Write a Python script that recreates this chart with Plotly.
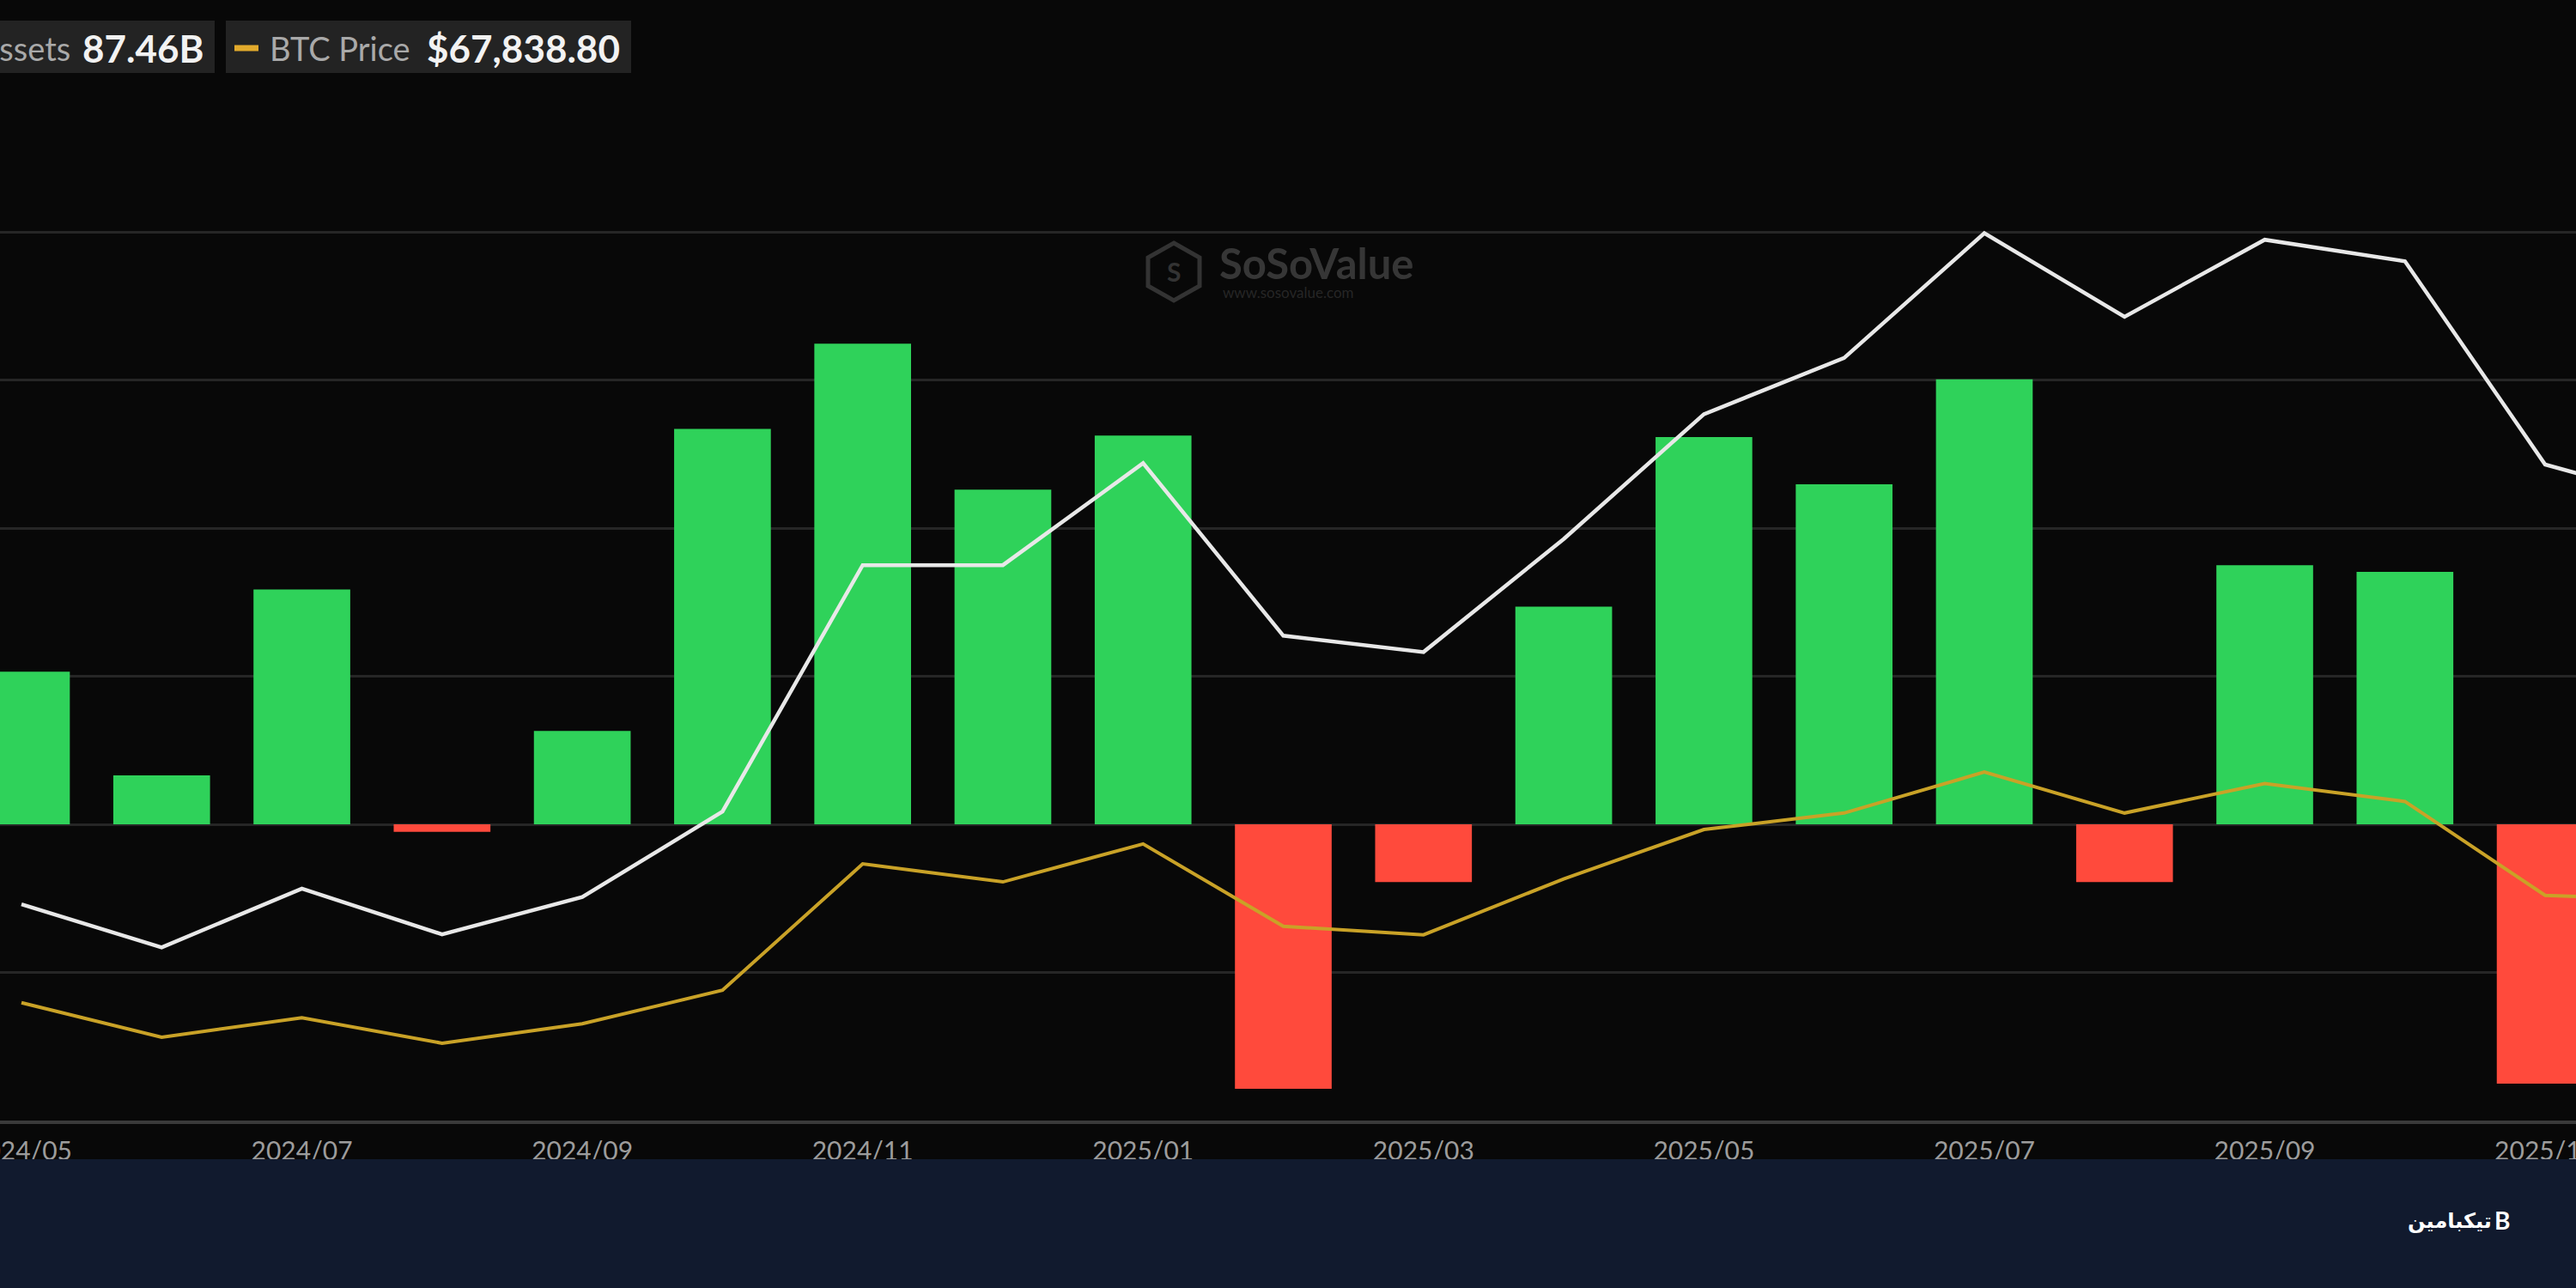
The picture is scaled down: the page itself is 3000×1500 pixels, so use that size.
import plotly.graph_objects as go

# ---------------- data ----------------
months = ["2024/05", "2024/06", "2024/07", "2024/08", "2024/09", "2024/10", "2024/11",
          "2024/12", "2025/01", "2025/02", "2025/03", "2025/04", "2025/05", "2025/06",
          "2025/07", "2025/08", "2025/09", "2025/10", "2025/11", "2025/12"]

# monthly total net inflow (billion USD) - bars
net_inflow_b = [2.06, 0.66, 3.17, -0.10, 1.26, 5.34, 6.49, 4.52, 5.25, -3.57,
                -0.78, 2.94, 5.23, 4.59, 6.01, -0.78, 3.50, 3.41, -3.50]

# total net assets (billion USD) - white line
total_net_assets_b = [53.1, 46.5, 55.5, 48.5, 54.2, 67.3, 105.0, 105.0, 120.6, 94.2,
                      91.7, 109.0, 128.1, 136.7, 155.8, 143.0, 154.8, 151.5, 120.4, 114.5]

# BTC price (thousand USD) - gold line
btc_price_k = [69.6, 62.7, 66.6, 61.5, 65.4, 72.1, 97.4, 93.8, 101.4, 84.9,
               83.2, 94.4, 104.3, 107.6, 115.8, 107.6, 113.5, 109.9, 91.1, 90.2]

tick_months = months[:19:2]

legend_assets_label = "Total Net Assets"
legend_assets_value = "87.46B"
legend_btc_label = "BTC Price"
legend_btc_value = "$67,838.80"

# ---------------- style ----------------
W, H = 3000, 1500
BG = "#080808"
GREEN = "#2fd25a"
RED = "#ff4a3c"
WHITE_LINE = "#e8e8e8"
GOLD = "#c9a227"
GRID = "#262626"
BAND = "#111a2e"
FONT = "Lato, Roboto, 'Open Sans', sans-serif"


def px(x):
    return x / W


def py(y):
    return 1 - y / H


fig = go.Figure()

bar_colors = [GREEN if v >= 0 else RED for v in net_inflow_b]
fig.add_trace(go.Bar(
    x=months[:len(net_inflow_b)], y=net_inflow_b,
    marker=dict(color=bar_colors, line=dict(width=0)),
    name="Total Net Inflow", yaxis="y", showlegend=False,
))
fig.add_trace(go.Scatter(
    x=months, y=total_net_assets_b, mode="lines",
    line=dict(color=WHITE_LINE, width=4.5), yaxis="y2",
    name=legend_assets_label, showlegend=False,
))
fig.add_trace(go.Scatter(
    x=months, y=btc_price_k, mode="lines",
    line=dict(color=GOLD, width=4), yaxis="y3",
    name=legend_btc_label, showlegend=False,
))

# plot area: bottom at 1305 px (-4), 8 at 270 px, extra 0.05 headroom above
y_dom = [py(1305), py(265.7)]

shapes = [
    # legend boxes
    dict(type="rect", xref="paper", yref="paper", x0=-0.01, x1=px(250), y0=py(85), y1=py(24),
         fillcolor="#232323", line=dict(width=0), layer="above"),
    dict(type="rect", xref="paper", yref="paper", x0=px(263), x1=px(735), y0=py(85), y1=py(24),
         fillcolor="#232323", line=dict(width=0), layer="above"),
    dict(type="line", xref="paper", yref="paper", x0=px(273), x1=px(301), y0=py(56), y1=py(56),
         line=dict(color="#e2aa2c", width=7), layer="above"),
    # watermark hexagon
    dict(type="path", xref="paper", yref="paper",
         path=("M {a},{b} L {c},{d} L {c},{e} L {a},{f} L {g},{e} L {g},{d} Z").format(
             a=px(1367), b=py(283), c=px(1397), d=py(300), e=py(333), f=py(350), g=px(1337)),
         line=dict(color="#333333", width=5), fillcolor="rgba(0,0,0,0)", layer="below"),
    # bottom band
    dict(type="rect", xref="paper", yref="paper", x0=0, x1=1, y0=0, y1=py(1350),
         fillcolor=BAND, line=dict(width=0), layer="above"),
]

annotations = [
    dict(x=px(84), y=py(56), xref="paper", yref="paper", text=legend_assets_label,
         xanchor="right", yanchor="middle", showarrow=False,
         font=dict(family=FONT, size=38, color="#a9a9a9")),
    dict(x=px(94), y=py(56), xref="paper", yref="paper", text="<b>" + legend_assets_value + "</b>",
         xanchor="left", yanchor="middle", showarrow=False,
         font=dict(family=FONT, size=44, color="#f2f2f2")),
    dict(x=px(312), y=py(56), xref="paper", yref="paper", text=legend_btc_label,
         xanchor="left", yanchor="middle", showarrow=False,
         font=dict(family=FONT, size=38, color="#a9a9a9")),
    dict(x=px(495), y=py(56), xref="paper", yref="paper", text="<b>" + legend_btc_value + "</b>",
         xanchor="left", yanchor="middle", showarrow=False,
         font=dict(family=FONT, size=44, color="#f2f2f2")),
    # watermark
    dict(x=px(1367), y=py(316), xref="paper", yref="paper", text="<b>S</b>",
         xanchor="center", yanchor="middle", showarrow=False,
         font=dict(family=FONT, size=30, color="#333333")),
    dict(x=px(1418), y=py(306), xref="paper", yref="paper", text="<b>SoSoValue</b>",
         xanchor="left", yanchor="middle", showarrow=False,
         font=dict(family=FONT, size=49, color="#363636")),
    dict(x=px(1422), y=py(340), xref="paper", yref="paper", text="www.sosovalue.com",
         xanchor="left", yanchor="middle", showarrow=False,
         font=dict(family=FONT, size=17, color="#262626")),
    # site logo in band
    dict(x=px(2904), y=py(1422), xref="paper", yref="paper", text="<b>تیکبامین</b>",
         xanchor="right", yanchor="middle", showarrow=False,
         font=dict(family="'DejaVu Sans', 'Noto Sans', sans-serif", size=24, color="#ffffff")),
    dict(x=px(2903), y=py(1421), xref="paper", yref="paper", text="<b>B</b>",
         xanchor="left", yanchor="middle", showarrow=False,
         font=dict(family=FONT, size=28, color="#ffffff")),
]

fig.update_layout(
    width=W, height=H,
    margin=dict(l=0, r=0, t=0, b=0, pad=0, autoexpand=False),
    paper_bgcolor=BG, plot_bgcolor=BG,
    bargap=0.31,
    showlegend=False,
    shapes=shapes,
    annotations=annotations,
    font=dict(family=FONT, color="#9a9a9a"),
    xaxis=dict(
        type="category", categoryorder="array", categoryarray=months,
        range=[-0.153, 18.22], domain=[0, 1], automargin=False,
        tickmode="array", tickvals=tick_months, ticktext=tick_months,
        tickfont=dict(family=FONT, size=30, color="#9c9c9c"),
        showgrid=False, zeroline=False,
        showline=True, linecolor="#3a3a3a", linewidth=4,
        ticks="", ticklabelstandoff=6,
    ),
    yaxis=dict(
        domain=y_dom, range=[-4.0, 8.05], automargin=False,
        tickmode="linear", tick0=0, dtick=2,
        showgrid=True, gridcolor=GRID, gridwidth=3,
        zeroline=True, zerolinecolor=GRID, zerolinewidth=3,
        showticklabels=False, ticks="",
    ),
    yaxis2=dict(overlaying="y", range=[20, 156.57], visible=False, showgrid=False, automargin=False),
    yaxis3=dict(overlaying="y", range=[46, 224.74], visible=False, showgrid=False, automargin=False),
)

fig.write_html(
    "out.html",
    config={"displayModeBar": False},
    post_script="document.body.style.margin='0';document.body.style.background='" + BG + "';",
)
